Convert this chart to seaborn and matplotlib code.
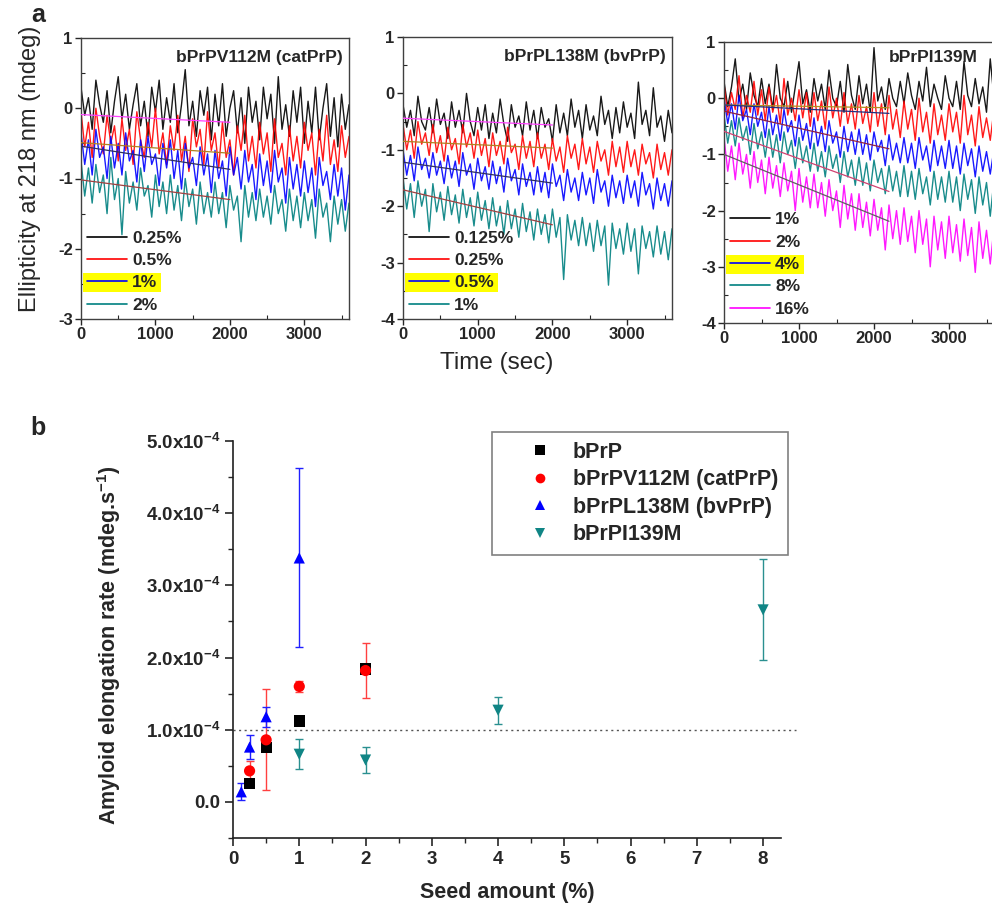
import numpy as np
import pandas as pd
import matplotlib
matplotlib.use("Agg")
import matplotlib.pyplot as plt
import seaborn as sns
from matplotlib.lines import Line2D
from matplotlib.patches import Rectangle
from matplotlib.ticker import MultipleLocator, FixedLocator, FixedFormatter
from matplotlib.transforms import Bbox

# ---------------- data: panel a (CD kinetics, one value every 50 s, 0-3600 s) ----------------
# bPrPV112M (catPrP)
v112_025 = [0.30, -0.10, 0.15, -0.30, 0.40, 0.05, -0.20, 0.25, -0.35, 0.10, 0.45, -0.15,
            0.20, -0.30, 0.05, 0.35, -0.25, 0.10, -0.40, 0.30, -0.05, 0.40, -0.30, 0.15,
            -0.20, 0.35, -0.35, 0.05, 0.55, -0.25, 0.10, -0.40, 0.25, -0.10, 0.30, -0.45,
            0.20, -0.25, 0.35, -0.40, 0.00, 0.25, -0.35, 0.15, -0.50, 0.30, -0.20, 0.10,
            -0.45, 0.30, -0.15, 0.20, -0.50, 0.45, -0.30, 0.05, -0.40, 0.25, -0.20, 0.30,
            -0.50, 0.10, -0.35, 0.30, -0.45, 0.00, 0.35, -0.40, 0.15, -0.55, 0.20, -0.30, 0.05]
v112_05 = [-0.05, -0.55, -0.20, -0.70, 0.00, -0.40, -0.65, -0.10, -0.50, -0.25, -0.75, -0.15,
           -0.60, -0.30, -0.80, -0.05, -0.45, -0.70, -0.20, -0.55, 0.00, -0.65, -0.35, -0.80,
           -0.25, -0.60, -0.10, -0.75, -0.40, -0.90, -0.15, -0.55, -0.30, -0.80, -0.05, -0.60,
           -0.35, -0.85, -0.20, -0.70, -0.45, -0.95, -0.25, -0.60, -0.10, -0.75, -0.40, -0.85,
           -0.20, -0.65, -0.35, -0.90, -0.15, -0.70, -0.50, -0.95, -0.25, -0.75, -0.40, -0.85,
           -0.20, -0.60, -0.35, -0.95, -0.30, -0.75, -0.10, -0.80, -0.45, -0.90, -0.25, -0.70, -0.40]
v112_1 = [-0.35, -0.80, -0.45, -0.95, -0.30, -0.70, -0.55, -1.00, -0.40, -0.85, -0.50, -0.95,
          -0.35, -0.75, -0.60, -1.05, -0.45, -0.90, -0.40, -0.80, -0.65, -1.10, -0.50, -0.85,
          -0.45, -1.00, -0.60, -1.15, -0.50, -0.85, -0.70, -1.10, -0.55, -0.95, -0.65, -1.20,
          -0.60, -1.00, -0.75, -1.25, -0.55, -0.95, -0.70, -1.15, -0.60, -1.05, -0.80, -1.30,
          -0.65, -1.10, -0.75, -1.20, -0.60, -1.05, -0.85, -1.35, -0.70, -1.15, -0.80, -1.25,
          -0.75, -1.20, -0.85, -1.40, -0.70, -1.10, -0.90, -1.30, -0.80, -1.25, -0.85, -1.45, -0.95]
v112_2 = [-0.75, -1.25, -0.85, -1.35, -0.80, -1.20, -0.95, -1.50, -0.70, -1.30, -1.00, -1.80,
          -0.90, -1.35, -1.05, -1.45, -0.85, -1.25, -1.10, -1.55, -0.95, -1.40, -1.05, -1.50,
          -0.95, -1.45, -1.10, -1.60, -1.00, -1.40, -1.15, -1.65, -1.05, -1.50, -1.20, -1.55,
          -1.05, -1.50, -1.20, -1.70, -1.10, -1.45, -1.25, -1.90, -1.10, -1.55, -1.20, -1.60,
          -1.15, -1.55, -1.25, -1.65, -1.10, -1.50, -1.30, -1.75, -1.15, -1.60, -1.25, -1.70,
          -1.20, -1.60, -1.30, -1.85, -1.15, -1.55, -1.35, -1.90, -1.25, -1.65, -1.30, -1.75, -1.35]

# bPrPL138M (bvPrP)
l138_0125 = [-0.20, -0.60, -0.30, -0.75, -0.05, -0.50, -0.65, -0.25, -0.70, -0.10, -0.55, -0.35,
             -0.80, -0.15, -0.60, -0.30, -0.70, 0.00, -0.50, -0.75, -0.25, -0.65, -0.20, -0.80,
             -0.35, -0.70, -0.10, -0.55, -0.85, -0.20, -0.60, -0.40, -0.75, -0.15, -0.65, -0.30,
             -0.80, -0.25, -0.60, -0.45, -0.85, -0.20, -0.70, -0.35, -0.75, -0.10, -0.60, -0.30,
             -0.80, -0.20, -0.65, -0.40, -0.75, -0.05, -0.55, -0.30, -0.80, -0.25, -0.70, -0.15,
             -0.60, -0.35, -0.80, 0.20, -0.55, -0.30, -0.75, 0.10, -0.60, -0.40, -0.85, -0.30, -0.70]
l138_025 = [-0.55, -1.00, -0.65, -1.15, -0.50, -0.90, -0.70, -1.10, -0.55, -1.05, -0.75, -1.20,
            -0.60, -1.00, -0.80, -1.25, -0.55, -0.95, -0.70, -1.15, -0.65, -1.10, -0.80, -1.30,
            -0.70, -1.10, -0.85, -1.25, -0.60, -1.05, -0.90, -1.35, -0.75, -1.15, -0.85, -1.30,
            -0.70, -1.15, -0.90, -1.35, -0.80, -1.20, -0.95, -1.40, -0.75, -1.15, -0.90, -1.35,
            -0.80, -1.25, -0.95, -1.40, -0.85, -1.20, -1.00, -1.45, -0.85, -1.30, -0.95, -1.40,
            -0.85, -1.30, -1.00, -1.45, -0.90, -1.25, -1.05, -1.50, -0.90, -1.35, -1.05, -1.45, -1.00]
l138_05 = [-1.00, -1.45, -1.10, -1.55, -0.95, -1.35, -1.15, -1.50, -1.05, -1.45, -1.20, -1.60,
           -1.10, -1.50, -1.20, -1.65, -1.05, -1.45, -1.25, -1.70, -1.15, -1.55, -1.30, -1.70,
           -1.20, -1.60, -1.30, -1.75, -1.15, -1.55, -1.35, -1.80, -1.25, -1.65, -1.40, -1.80,
           -1.30, -1.75, -1.40, -1.85, -1.25, -1.65, -1.45, -1.90, -1.35, -1.75, -1.50, -1.90,
           -1.40, -1.80, -1.50, -1.95, -1.35, -1.75, -1.55, -2.00, -1.45, -1.85, -1.55, -1.95,
           -1.45, -1.85, -1.55, -2.00, -1.40, -1.80, -1.60, -2.05, -1.50, -1.90, -1.60, -2.00, -1.55]
l138_1 = [-1.50, -2.05, -1.60, -2.20, -1.55, -2.00, -1.70, -2.45, -1.60, -2.10, -1.75, -2.25,
          -1.65, -2.15, -1.80, -2.30, -1.70, -2.20, -1.85, -2.35, -1.75, -2.25, -1.90, -2.40,
          -1.85, -2.35, -2.00, -2.50, -1.90, -2.40, -2.05, -2.55, -1.95, -2.45, -2.10, -2.60,
          -2.05, -2.50, -2.15, -2.65, -2.05, -2.55, -2.20, -3.30, -2.15, -2.60, -2.25, -2.70,
          -2.20, -2.70, -2.30, -2.80, -2.25, -2.70, -2.35, -3.40, -2.30, -2.75, -2.40, -2.85,
          -2.30, -2.80, -2.40, -3.20, -2.35, -2.75, -2.45, -2.90, -2.35, -2.85, -2.45, -2.95, -2.40]

# bPrPI139M
i139_1 = [0.30, -0.15, 0.20, 0.70, -0.05, 0.25, -0.20, 0.45, 0.05, -0.15, 0.35, -0.10,
          0.25, -0.20, 0.60, 0.00, -0.15, 0.30, -0.25, 0.20, 0.65, -0.10, 0.15, -0.25,
          0.35, -0.05, 0.25, -0.20, 0.50, 0.00, -0.15, 0.30, -0.25, 0.60, 0.05, -0.20,
          0.40, -0.10, 0.25, -0.25, 0.90, -0.05, 0.20, -0.20, 0.35, 0.00, -0.15, 0.30,
          -0.10, 0.45, 0.05, -0.20, 0.30, -0.05, 0.55, -0.15, 0.25, 0.00, -0.20, 0.40,
          0.00, -0.15, 0.30, -0.20, 0.65, 0.05, -0.15, 0.35, -0.10, 0.20, -0.25, 0.70, 0.00]
i139_2 = [0.25, -0.30, 0.10, -0.20, 0.40, -0.35, 0.05, -0.25, 0.30, -0.30, 0.15, -0.40,
          0.20, -0.25, 0.05, -0.45, 0.35, -0.30, 0.00, -0.40, 0.15, -0.35, 0.10, -0.50,
          0.10, -0.40, -0.05, -0.55, 0.20, -0.35, 0.00, -0.50, 0.10, -0.45, -0.10, -0.55,
          0.05, -0.45, -0.15, -0.60, 0.10, -0.50, -0.10, -0.65, 0.05, -0.55, -0.20, -0.70,
          -0.05, -0.55, -0.20, -0.75, 0.00, -0.60, -0.25, -0.80, -0.10, -0.65, -0.30, -0.75,
          -0.10, -0.60, -0.25, -0.80, 0.05, -0.65, -0.30, -0.85, -0.15, -0.70, -0.35, -0.75, -0.20]
i139_4 = [0.00, -0.45, -0.10, -0.55, 0.05, -0.40, -0.20, -0.65, -0.10, -0.50, -0.25, -0.70,
          -0.15, -0.65, -0.30, -0.75, -0.20, -0.60, -0.40, -0.85, -0.30, -0.75, -0.45, -0.90,
          -0.35, -0.85, -0.50, -0.95, -0.40, -0.80, -0.60, -1.05, -0.50, -0.95, -0.60, -1.00,
          -0.55, -1.00, -0.65, -1.10, -0.60, -0.95, -0.75, -1.20, -0.65, -1.10, -0.80, -1.15,
          -0.70, -1.15, -0.80, -1.25, -0.70, -1.10, -0.85, -1.30, -0.75, -1.20, -0.85, -1.25,
          -0.75, -1.25, -0.85, -1.35, -0.80, -1.20, -0.90, -1.40, -0.85, -1.30, -0.95, -1.35, -0.90]
i139_8 = [-0.30, -0.80, -0.40, -0.85, -0.35, -0.75, -0.50, -1.00, -0.45, -0.90, -0.60, -1.05,
          -0.55, -1.05, -0.65, -1.15, -0.60, -1.00, -0.75, -1.25, -0.70, -1.15, -0.85, -1.30,
          -0.80, -1.30, -0.95, -1.40, -0.85, -1.25, -1.00, -1.50, -0.95, -1.40, -1.10, -1.55,
          -1.05, -1.55, -1.15, -1.65, -1.10, -1.50, -1.25, -1.70, -1.20, -1.65, -1.30, -1.75,
          -1.20, -1.75, -1.30, -1.80, -1.25, -1.70, -1.40, -1.90, -1.30, -1.80, -1.40, -1.85,
          -1.30, -1.85, -1.40, -2.00, -1.35, -1.80, -1.45, -2.05, -1.40, -1.90, -1.50, -2.10, -1.45]
i139_16 = [-0.70, -1.30, -0.85, -1.45, -0.80, -1.35, -1.00, -1.60, -0.95, -1.50, -1.10, -1.70,
           -1.05, -1.60, -1.20, -1.75, -1.15, -1.65, -1.30, -2.00, -1.25, -1.85, -1.40, -1.95,
           -1.35, -1.95, -1.50, -2.10, -1.45, -2.00, -1.65, -2.30, -1.55, -2.15, -1.70, -2.35,
           -1.70, -2.30, -1.85, -2.45, -1.80, -2.35, -1.95, -2.70, -1.90, -2.50, -2.00, -2.60,
           -1.95, -2.55, -2.10, -2.75, -2.00, -2.60, -2.15, -3.00, -2.10, -2.70, -2.20, -2.85,
           -2.10, -2.75, -2.25, -2.90, -2.15, -2.80, -2.30, -3.10, -2.20, -2.85, -2.35, -2.95, -2.30]

# linear fits over the initial part (start value, end value)
fit_v112 = [(-0.09, -0.20), (-0.49, -0.64), (-0.54, -0.87), (-1.02, -1.30)]
fit_l138 = [(-0.44, -0.56), (-0.85, -0.97), (-1.22, -1.59), (-1.71, -2.33)]
fit_i139 = [(-0.12, -0.17), (-0.12, -0.27), (-0.23, -0.90), (-0.59, -1.66), (-1.00, -2.19)]
fit_end = [2000, 2000, 2200]

labels_v112 = ["0.25%", "0.5%", "1%", "2%"]
labels_l138 = ["0.125%", "0.25%", "0.5%", "1%"]
labels_i139 = ["1%", "2%", "4%", "8%", "16%"]

# ---------------- data: panel b (elongation rates) ----------------
seed_bprp = [0.25, 0.5, 1, 2]
rate_bprp = [0.26e-4, 0.75e-4, 1.12e-4, 1.84e-4]

seed_v112 = [0.25, 0.5, 1, 2]
rate_v112 = [0.43e-4, 0.86e-4, 1.60e-4, 1.82e-4]
err_v112 = [0.14e-4, 0.70e-4, 0.08e-4, 0.38e-4]

seed_l138 = [0.125, 0.25, 0.5, 1]
rate_l138 = [0.14e-4, 0.76e-4, 1.18e-4, 3.38e-4]
err_l138 = [0.12e-4, 0.17e-4, 0.14e-4, 1.24e-4]

seed_i139 = [1, 2, 4, 8]
rate_i139 = [0.66e-4, 0.58e-4, 1.27e-4, 2.66e-4]
err_i139 = [0.21e-4, 0.18e-4, 0.19e-4, 0.70e-4]

threshold_rate = 1.0e-4

# ---------------- style ----------------
sns.set_style("ticks")
plt.rcParams["font.family"] = ["Liberation Sans", "DejaVu Sans"]
plt.rcParams["font.weight"] = "bold"
plt.rcParams["axes.labelweight"] = "bold"
plt.rcParams["axes.unicode_minus"] = False
plt.rcParams["mathtext.fontset"] = "custom"
plt.rcParams["mathtext.rm"] = "Liberation Sans:bold"
plt.rcParams["mathtext.bf"] = "Liberation Sans:bold"
plt.rcParams["mathtext.it"] = "Liberation Sans:bold"

trace_colors = ["#000000", "#ff0000", "#0000ff", "#008080", "#ff00ff"]
fit_colors_4 = ["#ff40ff", "#b08020", "#303060", "#a04040"]
fit_colors_5 = ["#b09020", "#203080", "#902040", "#d04070", "#606060"]

W, H = 992, 914
fig = plt.figure(figsize=(W / 100, H / 100), dpi=100)


def fig_rect(x0, y0, x1, y1):
    return [x0 / W, 1 - y1 / H, (x1 - x0) / W, (y1 - y0) / H]


panels = [
    dict(rect=fig_rect(81, 38, 349, 319), traces=[v112_025, v112_05, v112_1, v112_2],
         labels=labels_v112, fits=fit_v112, fend=fit_end[0], ylim=(-3, 1),
         title="bPrPV112M (catPrP)", tx=0.978, ty=0.93, hl=2, fcols=fit_colors_4),
    dict(rect=fig_rect(403, 37, 672, 319), traces=[l138_0125, l138_025, l138_05, l138_1],
         labels=labels_l138, fits=fit_l138, fend=fit_end[1], ylim=(-4, 1),
         title="bPrPL138M (bvPrP)", tx=0.975, ty=0.93, hl=2, fcols=fit_colors_4),
    dict(rect=fig_rect(724, 42, 994, 323), traces=[i139_1, i139_2, i139_4, i139_8, i139_16],
         labels=labels_i139, fits=fit_i139, fend=fit_end[2], ylim=(-4, 1),
         title="bPrPI139M", tx=0.94, ty=0.945, hl=2, fcols=fit_colors_5),
]

for p in panels:
    ax = fig.add_axes(p["rect"])
    for vals, col in zip(p["traces"], trace_colors):
        t = np.linspace(0, 3600, len(vals))
        sns.lineplot(x=t, y=vals, ax=ax, color=col, lw=1.0, alpha=0.9,
                     estimator=None, sort=False)
    for (y0, y1), col in zip(p["fits"], p["fcols"]):
        ax.plot([0, p["fend"]], [y0, y1], color=col, lw=0.9, zorder=3)
    ax.set_xlim(0, 3600)
    ax.set_ylim(*p["ylim"])
    ax.xaxis.set_major_locator(MultipleLocator(1000))
    ax.xaxis.set_minor_locator(MultipleLocator(500))
    ax.yaxis.set_major_locator(MultipleLocator(1))
    ax.yaxis.set_minor_locator(MultipleLocator(0.5))
    ax.tick_params(which="major", direction="out", length=4, width=1, labelsize=12, pad=2)
    ax.tick_params(which="minor", direction="in", length=3, width=0.8)
    for s in ax.spines.values():
        s.set_color("#404040")
        s.set_linewidth(1.0)
    ax.set_xlabel("")
    ax.set_ylabel("")
    ax.text(p["tx"], p["ty"], p["title"], transform=ax.transAxes, ha="right", va="center",
            fontsize=12.5, fontweight="bold")
    handles = [Line2D([], [], color=c, lw=1.2) for c in trace_colors[:len(p["labels"])]]
    leg = ax.legend(handles, p["labels"], loc="lower left", bbox_to_anchor=(0.0, 0.0),
                    frameon=False, prop=dict(weight="bold", size=12.5), handlelength=2.3,
                    handletextpad=0.3, labelspacing=0.42, borderaxespad=0.05, borderpad=0.3)
    leg.set_zorder(6)
    p["ax"], p["leg"] = ax, leg

fig.text(30 / W, 1 - 169 / H, "Ellipticity at 218 nm (mdeg)", rotation=90, ha="center",
         va="center", fontsize=17, fontweight="normal")
fig.text(497 / W, 1 - 363 / H, "Time (sec)", ha="center", va="center", fontsize=17.5,
         fontweight="normal")
fig.text(38 / W, 1 - 15 / H, "a", ha="center", va="center", fontsize=18, fontweight="bold")
fig.text(38 / W, 1 - 428 / H, "b", ha="center", va="center", fontsize=18, fontweight="bold")

# ---------------- panel b ----------------
axb = fig.add_axes(fig_rect(233, 441, 781, 838))
df_b = pd.DataFrame({
    "seed": seed_bprp + seed_v112 + seed_l138 + seed_i139,
    "rate": rate_bprp + rate_v112 + rate_l138 + rate_i139,
    "protein": ["bPrP"] * 4 + ["bPrPV112M (catPrP)"] * 4 + ["bPrPL138M (bvPrP)"] * 4
               + ["bPrPI139M"] * 4,
})
names = ["bPrP", "bPrPV112M (catPrP)", "bPrPL138M (bvPrP)", "bPrPI139M"]
pal = dict(zip(names, ["#000000", "#ff0000", "#0000ff", "#108585"]))
mks = dict(zip(names, ["s", "o", "^", "v"]))

axb.plot([0, 8.5], [threshold_rate, threshold_rate], ls=(0, (1.5, 2.5)), color="#555555",
         lw=1.0, clip_on=False, zorder=1)
for sx, ry, er, col in [(seed_v112, rate_v112, err_v112, "#ff4040"),
                        (seed_l138, rate_l138, err_l138, "#2020ff"),
                        (seed_i139, rate_i139, err_i139, "#2a9090")]:
    axb.errorbar(sx, ry, yerr=er, fmt="none", ecolor=col, elinewidth=1.0, capsize=3,
                 capthick=1.0, zorder=2)
sns.scatterplot(data=df_b, x="seed", y="rate", hue="protein", style="protein",
                palette=pal, markers=mks, hue_order=names, style_order=names,
                s=65, edgecolor="none", legend=False, ax=axb, zorder=3)

axb.set_xlim(0, 8.27)
axb.set_ylim(-0.5e-4, 5.0e-4)
axb.xaxis.set_major_locator(MultipleLocator(1))
axb.xaxis.set_minor_locator(MultipleLocator(0.5))
yt = [0, 1e-4, 2e-4, 3e-4, 4e-4, 5e-4]
axb.yaxis.set_major_locator(FixedLocator(yt))
axb.yaxis.set_major_formatter(FixedFormatter(
    ["0.0"] + ["%d.0x10$^{-4}$" % k for k in range(1, 6)]))
axb.yaxis.set_minor_locator(MultipleLocator(0.5e-4))
axb.tick_params(which="major", direction="out", length=6, width=1.2, labelsize=13.5, pad=3)
axb.tick_params(which="minor", direction="out", length=3.5, width=1.0)
axb.spines[["top", "right"]].set_visible(False)
axb.spines[["left", "bottom"]].set_linewidth(1.2)
axb.spines[["left", "bottom"]].set_color("#202020")
axb.set_xlabel("Seed amount (%)", fontsize=15.5)
axb.set_ylabel("Amyloid elongation rate (mdeg.s$^{-1}$)", fontsize=15.5)
axb.xaxis.set_label_coords(0.5, -0.11)
axb.yaxis.set_label_coords(-0.20, 0.486)

hb = [Line2D([], [], marker=mks[n], color=pal[n], ls="none", ms=7, markeredgewidth=0)
      for n in names]
legb = axb.legend(hb, names, loc="upper left", bbox_to_anchor=(492 / W, 1 - 432 / H),
                  bbox_transform=fig.transFigure, prop=dict(weight="bold", size=15.5),
                  frameon=True, fancybox=False, framealpha=1, edgecolor="#808080",
                  borderpad=0.45, handlelength=3.6, handletextpad=-0.3, labelspacing=0.3,
                  borderaxespad=0)
legb.get_frame().set_linewidth(1.2)

# yellow highlight behind one legend entry in each panel a
fig.canvas.draw()
rend = fig.canvas.get_renderer()
for p in panels:
    ax, leg, k = p["ax"], p["leg"], p["hl"]
    bb = Bbox.union([leg.legend_handles[k].get_window_extent(rend),
                     leg.get_texts()[k].get_window_extent(rend)])
    inv = ax.transAxes.inverted()
    (x0, y0), (x1, y1) = inv.transform([[bb.x0 - 4, bb.y0 - 2], [bb.x1 + 4, bb.y1 + 2]])
    ax.add_patch(Rectangle((x0, y0), x1 - x0, y1 - y0, transform=ax.transAxes,
                           facecolor="#ffff00", edgecolor="none", zorder=4.5))

fig.savefig("out.png", dpi=100)
